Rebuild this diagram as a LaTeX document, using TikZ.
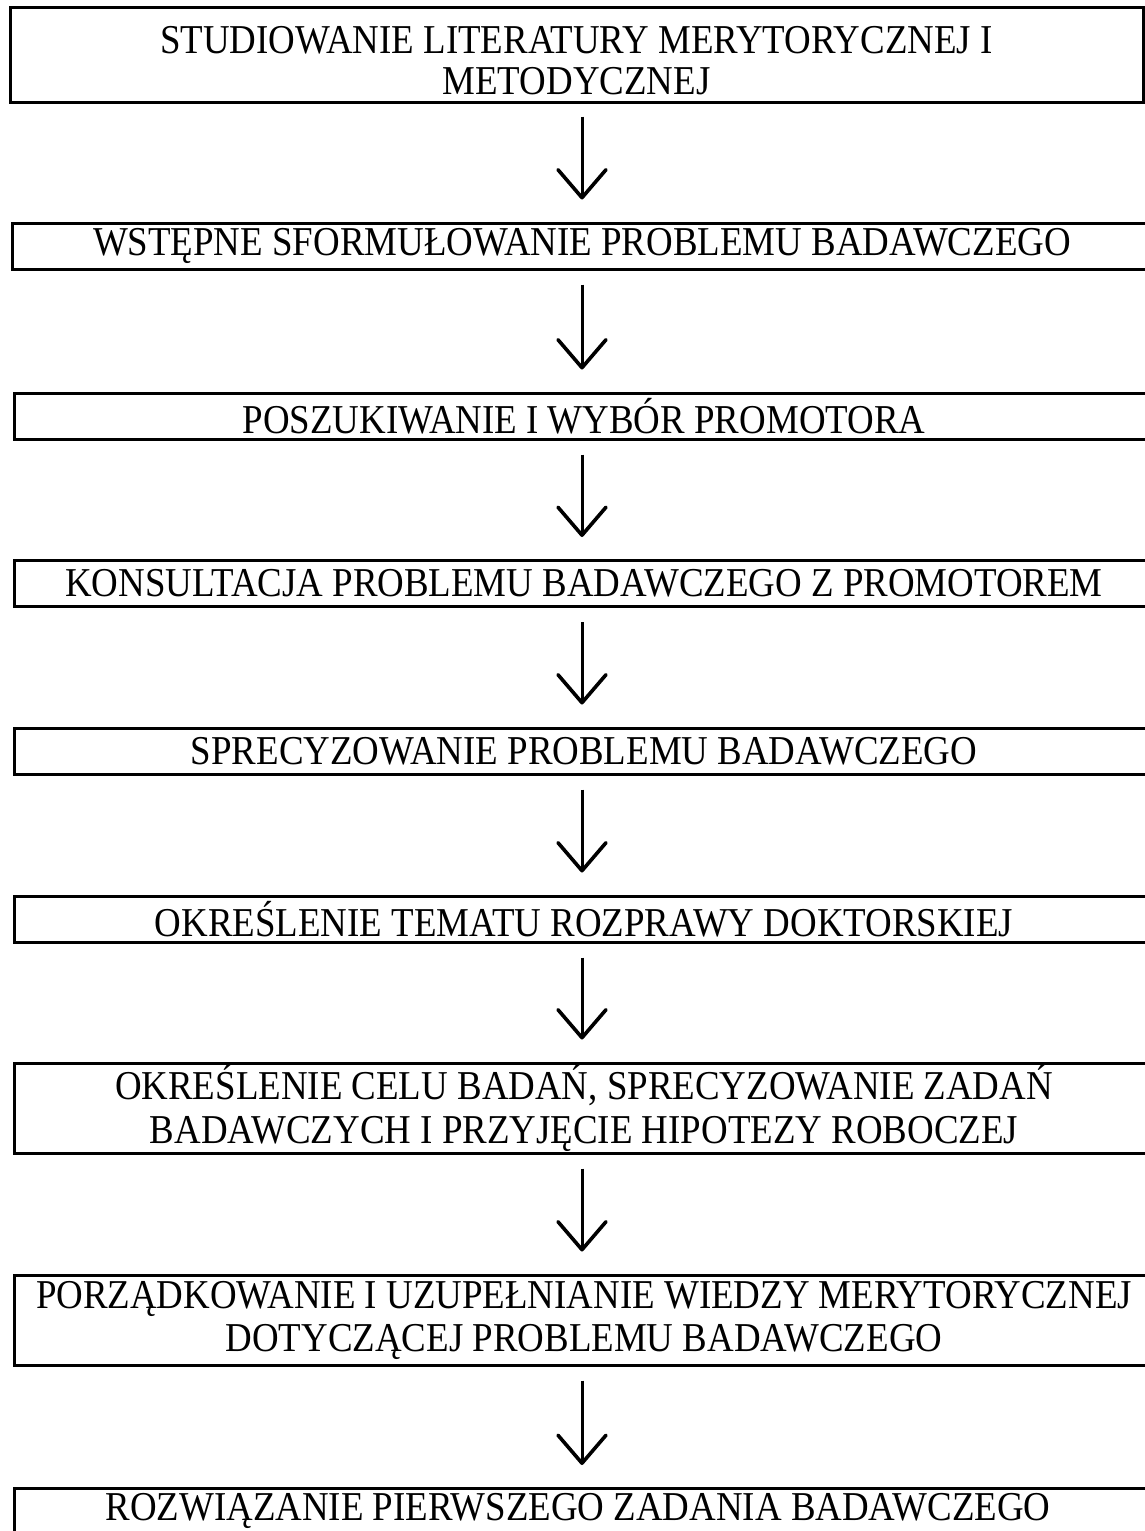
\documentclass[tikz,border=0pt]{standalone}
\usepackage{fontspec}
\setmainfont{Liberation Serif}[FakeStretch=0.9]
\usetikzlibrary{arrows.meta}
\begin{document}
\begin{tikzpicture}[x=1pt,y=-1pt,
  boxA/.style={draw,line width=3pt,rectangle,inner sep=0pt,font=\fontsize{41}{42}\selectfont,align=center},
  flow/.style={line width=3pt,-{Straight Barb[length=28pt,width=48pt,line width=3.6pt,round]}}]
\useasboundingbox (0,0) rectangle (1145,1531);
\clip (0,0) rectangle (1145,1531);
\fill[white] (0,0) rectangle (1145,1531);
\coordinate (ax) at (582,0);
\node[boxA,minimum width=1133pt,minimum height=95pt] (b1) at (576.5,54.5) {\rule{0pt}{40pt}STUDIOWANIE LITERATURY MERYTORYCZNEJ I\\[-1pt]METODYCZNEJ};
\node[boxA,minimum width=1140pt,minimum height=46pt] (b2) at (582,246) {WSTĘPNE SFORMUŁOWANIE PROBLEMU BADAWCZEGO};
\node[boxA,minimum width=1140pt,minimum height=46pt] (b3) at (584,416) {POSZUKIWANIE I WYBÓR PROMOTORA};
\node[boxA,minimum width=1140pt,minimum height=46pt] (b4) at (584,583.5) {KONSULTACJA PROBLEMU BADAWCZEGO Z PROMOTOREM};
\node[boxA,minimum width=1140pt,minimum height=46pt] (b5) at (584,751) {SPRECYZOWANIE PROBLEMU BADAWCZEGO};
\node[boxA,minimum width=1140pt,minimum height=46pt] (b6) at (584,919) {OKREŚLENIE TEMATU ROZPRAWY DOKTORSKIEJ};
\node[boxA,minimum width=1140pt,minimum height=90pt] (b7) at (584,1108) {OKREŚLENIE CELU BADAŃ, SPRECYZOWANIE ZADAŃ\\[2pt]BADAWCZYCH I PRZYJĘCIE HIPOTEZY ROBOCZEJ};
\node[boxA,minimum width=1140pt,minimum height=90pt] (b8) at (584,1320) {PORZĄDKOWANIE I UZUPEŁNIANIE WIEDZY MERYTORYCZNEJ\\[1pt]DOTYCZĄCEJ PROBLEMU BADAWCZEGO};
\node[boxA,minimum width=1140pt,minimum height=90pt,anchor=north] (b9) at (584,1487) {};
\node[font=\fontsize{41}{42}\selectfont] (t9) at (578,1511) {ROZWIĄZANIE PIERWSZEGO ZADANIA BADAWCZEGO};
\draw[flow] ([yshift=-13pt]b1.south -| ax) -- ([yshift=22pt]b2.north -| ax);
\draw[flow] ([yshift=-14pt]b2.south -| ax) -- ([yshift=22pt]b3.north -| ax);
\draw[flow] ([yshift=-14pt]b3.south -| ax) -- ([yshift=22pt]b4.north -| ax);
\draw[flow] ([yshift=-14pt]b4.south -| ax) -- ([yshift=22pt]b5.north -| ax);
\draw[flow] ([yshift=-14pt]b5.south -| ax) -- ([yshift=22pt]b6.north -| ax);
\draw[flow] ([yshift=-14pt]b6.south -| ax) -- ([yshift=22pt]b7.north -| ax);
\draw[flow] ([yshift=-14pt]b7.south -| ax) -- ([yshift=22pt]b8.north -| ax);
\draw[flow] ([yshift=-14pt]b8.south -| ax) -- ([yshift=22pt]b9.north -| ax);
\end{tikzpicture}
\end{document}
